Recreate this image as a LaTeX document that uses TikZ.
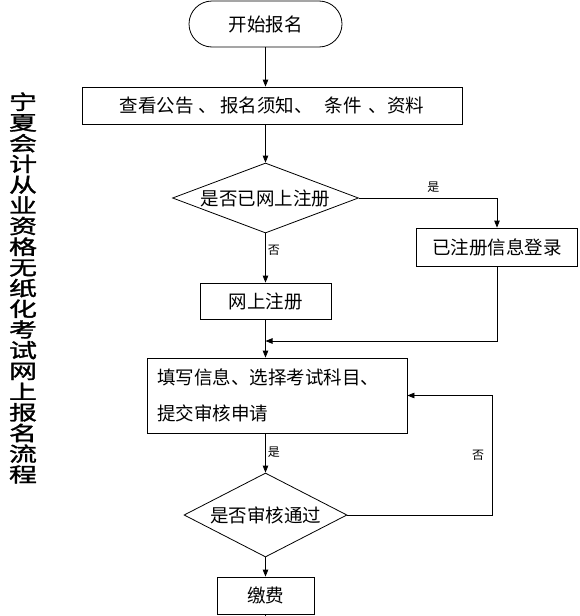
\documentclass[tikz,border=0pt]{standalone}
\usepackage{fontspec}
\setmainfont{Noto Sans CJK SC}
\newfontfamily\titlefont[FakeStretch=1.4, FakeBold=1.5]{Noto Sans CJK SC}
\usetikzlibrary{shapes.geometric, arrows.meta}

\begin{document}
\begin{tikzpicture}[
    x=1pt, y=-1pt,
    line width=0.8pt,
    box/.style={rectangle, draw, inner sep=0pt, minimum height=37pt, font=\fontsize{18.5}{20}\selectfont},
    start/.style={box, rounded corners=23pt, minimum width=153pt, minimum height=46pt},
    choice/.style={diamond, draw, inner sep=0pt, font=\fontsize{18.5}{20}\selectfont},
    lbl/.style={font=\fontsize{12}{13}\selectfont, inner sep=2pt},
    title/.style={align=center, inner sep=0pt, font=\titlefont\fontsize{20}{20.7}\selectfont},
    arr/.style={-{Triangle[length=7pt, width=5.5pt]}}
]
    \useasboundingbox (0,0) rectangle (580,616);

    \node[title] (title) at (23,288) {宁\\夏\\会\\计\\从\\业\\资\\格\\无\\纸\\化\\考\\试\\网\\上\\报\\名\\流\\程};

    \node[start] (begin) at (265.5,24) {开始报名};
    \node[box, minimum width=380pt] (notice) at (272,105.5) {查看公告\hspace{5pt}、\hspace{3pt}报名须知、\hspace{12pt}条件\hspace{7pt}、资料};
    \node[choice, aspect=2.66, minimum width=186pt, minimum height=70pt] (online) at (265.5,198) {是否已网上注册};
    \node[box, minimum width=161pt, minimum height=38pt] (login) at (497,247) {已注册信息登录};
    \node[box, minimum width=131pt, minimum height=36pt] (reg) at (265.5,301) {网上注册};
    \node[box, minimum width=260pt, minimum height=75pt, text width=240pt, align=left,
          font=\fontsize{18.5}{36}\selectfont] (fill) at (277,395.5) {填写信息、选择考试科目、\\提交审核申请};
    \node[choice, aspect=1.94, minimum width=163pt, minimum height=84pt] (check) at (265.5,515) {是否审核通过};
    \node[box, minimum width=97pt] (pay) at (265.5,595.5) {缴费};
    \coordinate (join) at (265.5,341);
    \coordinate (tail) at (265.5,616);

    \draw[arr] (begin) -- (notice.north -| begin);
    \draw[arr] (notice.south -| online) -- (online);
    \draw[arr] (online.east) -| node[lbl, pos=0.27, above=3pt] {是} (login.north);
    \draw[arr] (online) -- node[lbl, right, pos=0.34] {否} (reg);
    \draw[arr] (login.south) |- (join);
    \draw[arr] (reg) -- (fill.north -| reg);
    \draw[arr] (fill.south -| check) -- node[lbl, right, pos=0.47] {是} (check);
    \draw[arr] (check.east) -- ++(145,0) |- node[lbl, left=6pt, pos=0.25] {否} (fill.east);
    \draw[arr] (check) -- (pay);
    \draw (pay) -- (tail);
\end{tikzpicture}
\end{document}
